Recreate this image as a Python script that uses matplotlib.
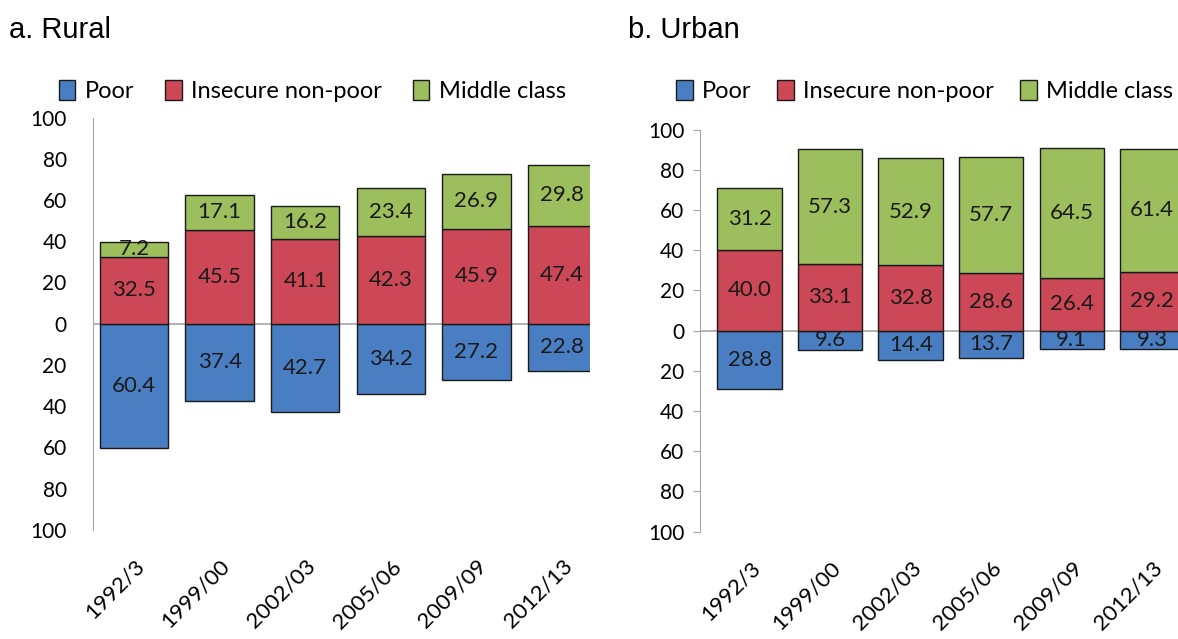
import numpy as np
import matplotlib
matplotlib.use("Agg")
from matplotlib import pyplot as plt
from matplotlib.patches import Patch
from matplotlib.transforms import ScaledTranslation

years = ["1992/3", "1999/00", "2002/03", "2005/06", "2009/09", "2012/13"]

rural_poor = [60.4, 37.4, 42.7, 34.2, 27.2, 22.8]
rural_insecure = [32.5, 45.5, 41.1, 42.3, 45.9, 47.4]
rural_middle = [7.2, 17.1, 16.2, 23.4, 26.9, 29.8]

urban_poor = [28.8, 9.6, 14.4, 13.7, 9.1, 9.3]
urban_insecure = [40.0, 33.1, 32.8, 28.6, 26.4, 29.2]
urban_middle = [31.2, 57.3, 52.9, 57.7, 64.5, 61.4]

yticks = [-100, -80, -60, -40, -20, 0, 20, 40, 60, 80, 100]

c_poor = "#4A7EC2"
c_ins = "#CD4856"
c_mid = "#9DBE5C"
fnt = ["Lato", "DejaVu Sans"]

fig = plt.figure(figsize=(11.78, 6.39), dpi=100)


def panel(rect, poor, ins, mid, xlim, ticks_on):
    ax = fig.add_axes(rect)
    x = np.arange(len(years))
    poor = np.array(poor)
    ins = np.array(ins)
    mid = np.array(mid)
    kw = dict(width=0.8, edgecolor="#1a1a1a", linewidth=1.0, zorder=2)
    ax.bar(x, -poor, color=c_poor, **kw)
    ax.bar(x, ins, color=c_ins, **kw)
    ax.bar(x, mid, bottom=ins, color=c_mid, **kw)
    for i in range(len(x)):
        ax.text(x[i], -poor[i] / 2, f"{poor[i]:.1f}", ha="center", va="center",
                fontsize=16, family=fnt, color="#1a1a1a", zorder=3)
        ax.text(x[i], ins[i] / 2, f"{ins[i]:.1f}", ha="center", va="center",
                fontsize=16, family=fnt, color="#1a1a1a", zorder=3)
        ax.text(x[i], ins[i] + mid[i] / 2, f"{mid[i]:.1f}", ha="center", va="center",
                fontsize=16, family=fnt, color="#1a1a1a", zorder=3)
    ax.axhline(0, color="#A6A6A6", linewidth=1.2, zorder=1)
    ax.set_xlim(*xlim)
    ax.set_ylim(-100, 100)
    ax.set_yticks(yticks)
    ax.set_yticklabels([str(abs(v)) for v in yticks], family=fnt, fontsize=15)
    ax.set_xticks(x)
    ax.set_xticklabels(years, rotation=45, ha="right", rotation_mode="anchor",
                       family=fnt, fontsize=16)
    off = ScaledTranslation(-0.2, 0, fig.dpi_scale_trans)
    for lab in ax.get_xticklabels():
        lab.set_transform(lab.get_transform() + off)
    for s in ["top", "right", "bottom"]:
        ax.spines[s].set_visible(False)
    ax.spines["left"].set_color("#A6A6A6")
    ax.tick_params(axis="x", length=0, pad=19)
    if ticks_on:
        ax.tick_params(axis="y", length=5, color="#A6A6A6", pad=6)
    else:
        ax.tick_params(axis="y", length=0, pad=19)
    return ax


ax1 = panel([0.079, 0.171, 0.422, 0.645], rural_poor, rural_insecure, rural_middle,
            (-0.48, 5.33), False)
ax2 = panel([0.594, 0.168, 0.406, 0.629], urban_poor, urban_insecure, urban_middle,
            (-0.62, 5.32), True)

fig.text(0.008, 0.953, "a. Rural", fontsize=21, family="Liberation Sans", va="center")
fig.text(0.533, 0.953, "b. Urban", fontsize=21, family="Liberation Sans", va="center")

handles = [Patch(facecolor=c_poor, edgecolor="#1a1a1a", label="Poor"),
           Patch(facecolor=c_ins, edgecolor="#1a1a1a", label="Insecure non-poor"),
           Patch(facecolor=c_mid, edgecolor="#1a1a1a", label="Middle class")]
leg_kw = dict(ncol=3, frameon=False, handlelength=0.7, handleheight=0.9,
              handletextpad=0.4, borderpad=0.1, borderaxespad=0,
              prop={"family": fnt, "size": 17})
fig.legend(handles=handles, loc="center", bbox_to_anchor=(0.265, 0.857),
           columnspacing=1.3, **leg_kw)
fig.legend(handles=handles, loc="center right", bbox_to_anchor=(0.998, 0.857),
           columnspacing=1.1, **leg_kw)

fig.savefig("out.png", dpi=100)
